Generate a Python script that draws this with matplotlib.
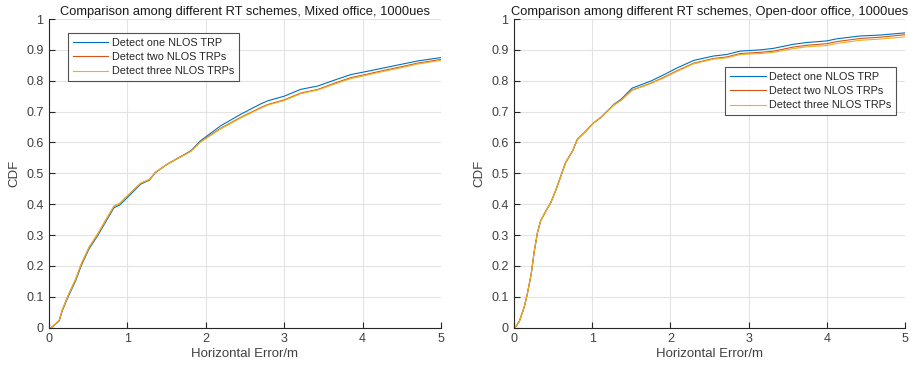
import numpy as np
import matplotlib
matplotlib.use("Agg")
import matplotlib.pyplot as plt

plt.rcParams["font.family"] = ["Liberation Sans", "DejaVu Sans"]

# ---- data (CDF of horizontal error, metres) ----
labels = ["Detect one NLOS TRP", "Detect two NLOS TRPs", "Detect three NLOS TRPs"]

# Mixed office
mixed_x_one = [0, 0.03, 0.13, 0.17, 0.24, 0.34, 0.41, 0.51, 0.62, 0.73, 0.83, 0.90, 1.00,
               1.17, 1.28, 1.36, 1.51, 1.81, 1.93, 2.19, 2.45, 2.70, 2.79, 3.00, 3.21,
               3.43, 3.64, 3.85, 4.07, 4.28, 4.49, 4.70, 5.00]
mixed_y_one = [0, 0, 0.022, 0.055, 0.098, 0.152, 0.200, 0.255, 0.298, 0.346, 0.389, 0.397, 0.422,
               0.465, 0.478, 0.503, 0.530, 0.573, 0.605, 0.654, 0.692, 0.725, 0.735, 0.750, 0.772,
               0.783, 0.802, 0.820, 0.831, 0.842, 0.853, 0.864, 0.875]
mixed_x_two = [0, 0.03, 0.13, 0.17, 0.24, 0.34, 0.41, 0.51, 0.62, 0.73, 0.83, 0.90, 1.00,
               1.17, 1.28, 1.36, 1.51, 1.81, 1.93, 2.19, 2.45, 2.70, 2.79, 3.00, 3.21,
               3.43, 3.64, 3.85, 4.07, 4.28, 4.49, 4.70, 5.00]
mixed_y_two = [0, 0, 0.024, 0.058, 0.102, 0.157, 0.205, 0.260, 0.303, 0.351, 0.394, 0.402, 0.427,
               0.468, 0.480, 0.504, 0.530, 0.572, 0.602, 0.646, 0.682, 0.713, 0.723, 0.738, 0.760,
               0.772, 0.792, 0.810, 0.822, 0.834, 0.845, 0.857, 0.869]
mixed_y_three = [0, 0, 0.024, 0.058, 0.102, 0.157, 0.205, 0.260, 0.303, 0.351, 0.394, 0.402, 0.427,
                 0.468, 0.480, 0.504, 0.530, 0.571, 0.601, 0.644, 0.680, 0.711, 0.721, 0.736, 0.758,
                 0.770, 0.789, 0.807, 0.819, 0.831, 0.842, 0.854, 0.866]

# Open-door office
open_x = [0, 0.03, 0.07, 0.13, 0.17, 0.22, 0.26, 0.30, 0.34, 0.41, 0.47, 0.54, 0.60, 0.66,
          0.75, 0.81, 0.90, 1.02, 1.11, 1.28, 1.37, 1.51, 1.75, 1.92, 2.09, 2.30, 2.55,
          2.72, 2.89, 3.15, 3.32, 3.57, 3.75, 4.00, 4.13, 4.43, 4.68, 5.00]
open_y_one = [0, 0.006, 0.022, 0.066, 0.109, 0.174, 0.249, 0.308, 0.346, 0.379, 0.405, 0.449,
              0.492, 0.535, 0.573, 0.610, 0.632, 0.664, 0.681, 0.724, 0.740, 0.776, 0.799,
              0.820, 0.842, 0.866, 0.880, 0.885, 0.896, 0.900, 0.905, 0.918, 0.924, 0.929,
              0.936, 0.945, 0.948, 0.955]
open_y_two = [0, 0.006, 0.022, 0.066, 0.109, 0.174, 0.249, 0.308, 0.346, 0.379, 0.405, 0.449,
              0.492, 0.535, 0.573, 0.610, 0.632, 0.664, 0.681, 0.722, 0.737, 0.770, 0.792,
              0.812, 0.833, 0.857, 0.872, 0.877, 0.888, 0.892, 0.896, 0.909, 0.915, 0.920,
              0.927, 0.937, 0.941, 0.949]
open_y_three = [0, 0.006, 0.022, 0.066, 0.109, 0.174, 0.249, 0.308, 0.346, 0.379, 0.405, 0.449,
                0.492, 0.535, 0.573, 0.610, 0.632, 0.664, 0.681, 0.722, 0.737, 0.769, 0.791,
                0.810, 0.831, 0.855, 0.870, 0.874, 0.885, 0.888, 0.892, 0.904, 0.910, 0.914,
                0.921, 0.931, 0.935, 0.942]

titles = ["Comparison among different RT schemes, Mixed office, 1000ues",
          "Comparison among different RT schemes, Open-door office, 1000ues"]

colors = ["#0072BD", "#D95319", "#EDB120"]
axcol = "#262626"

fig = plt.figure(figsize=(9.17, 3.69), dpi=100)
ax1 = fig.add_axes([49 / 917, 1 - 327.7 / 369, 392 / 917, 308.7 / 369])
ax2 = fig.add_axes([514 / 917, 1 - 327.7 / 369, 391 / 917, 308.7 / 369])

series = [
    (ax1, [(mixed_x_one, mixed_y_one), (mixed_x_two, mixed_y_two), (mixed_x_two, mixed_y_three)]),
    (ax2, [(open_x, open_y_one), (open_x, open_y_two), (open_x, open_y_three)]),
]

for i, (ax, lines) in enumerate(series):
    for (xs, ys), c, lab in zip(lines, colors, labels):
        ax.plot(xs, ys, color=c, linewidth=0.8, label=lab)
    ax.set_xlim(0, 5)
    ax.set_ylim(0, 1)
    ax.set_xticks(np.arange(0, 6, 1))
    ax.set_yticks(np.arange(0, 1.01, 0.1))
    ax.set_yticklabels(["0", "0.1", "0.2", "0.3", "0.4", "0.5", "0.6", "0.7", "0.8", "0.9", "1"])
    ax.grid(True, color="#e3e3e3", linewidth=0.8)
    ax.set_axisbelow(True)
    for s in ["top", "right"]:
        ax.spines[s].set_visible(False)
    for s in ["left", "bottom"]:
        ax.spines[s].set_color(axcol)
        ax.spines[s].set_linewidth(0.8)
    ax.tick_params(direction="in", length=4, width=0.8, color=axcol,
                   labelcolor="#404040", labelsize=9, pad=4)
    ax.set_xlabel("Horizontal Error/m", fontsize=9.5, color="#404040", labelpad=2)
    ax.set_ylabel("CDF", fontsize=9.5, color="#404040", labelpad=4)
    ax.set_title(titles[i], fontsize=9.3, color="#1a1a1a", pad=3)

leg_kw = dict(fontsize=7.8, frameon=True, fancybox=False, borderaxespad=0,
              handlelength=3.3, handletextpad=0.3, labelspacing=0.4,
              borderpad=0.45)
l1 = ax1.legend(loc="upper left", bbox_to_anchor=(0.048, 0.955), **leg_kw)
l2 = ax2.legend(loc="upper right", bbox_to_anchor=(0.977, 0.845), **leg_kw)
for lg in (l1, l2):
    lg.get_frame().set_edgecolor(axcol)
    lg.get_frame().set_linewidth(0.8)
    for t in lg.get_texts():
        t.set_color(axcol)

fig.savefig("out.png", dpi=100)
